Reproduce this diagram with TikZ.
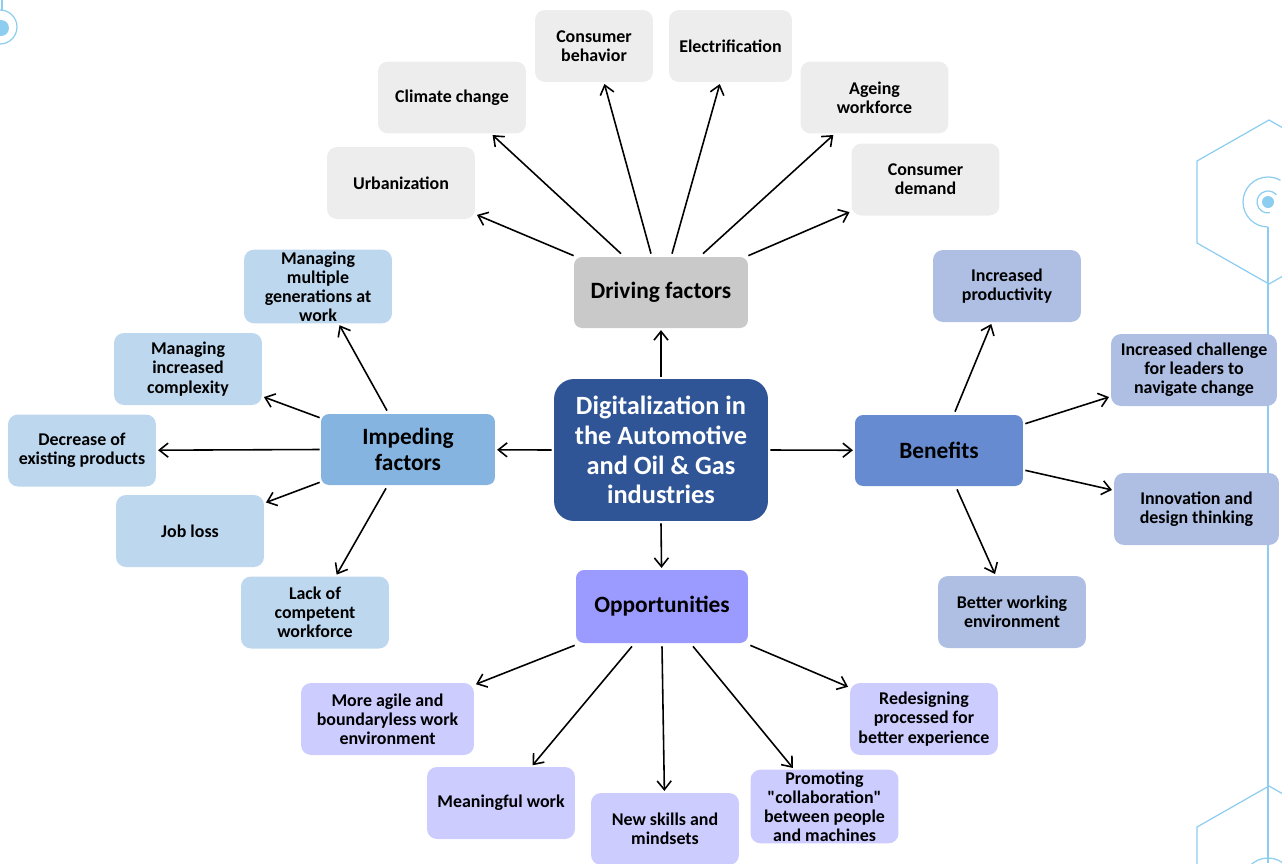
\documentclass[tikz,border=0pt]{standalone}
\usepackage{fontspec}
\setmainfont{Carlito}
\usetikzlibrary{arrows.meta,calc}
\definecolor{leafgray}{HTML}{EDEDED}
\definecolor{drvgray}{HTML}{C9C9C9}
\definecolor{impblue}{HTML}{86B4E1}
\definecolor{impleaf}{HTML}{BDD7EE}
\definecolor{benblue}{HTML}{668BD0}
\definecolor{benleaf}{HTML}{AEBFE3}
\definecolor{oppviolet}{HTML}{9A9AFF}
\definecolor{oppleaf}{HTML}{CCCCFF}
\definecolor{coreblue}{HTML}{2F5597}
\definecolor{decoblue}{HTML}{8DCDEF}
\tikzset{
  box/.style={rounded corners=0.2cm, align=center, inner sep=1pt,
    font=\fontsize{10.2}{10.9}\selectfont\bfseries,
    minimum width=2.96cm, minimum height=1.44cm},
  grayleaf/.style={box, fill=leafgray},
  impbox/.style={box, fill=impleaf},
  benbox/.style={box, fill=benleaf},
  oppbox/.style={box, fill=oppleaf},
  hub/.style={rounded corners=0.16cm, align=center, inner sep=1pt,
    font=\fontsize{13.3}{14.5}\selectfont\bfseries,
    minimum width=3.48cm, minimum height=1.42cm},
  arr/.style={-{Straight Barb[length=5pt,width=8pt]}, line width=0.9pt, shorten >=1pt},
  deco/.style={draw=decoblue, line width=0.7pt}
}
\begin{document}
\begin{tikzpicture}[x=0.02cm,y=-0.02cm]
  \useasboundingbox (0,0) rectangle (1282,863);
  \clip (0,0) rectangle (1282,863);
  % background ornaments
  \draw[deco] (2,0)--(2,10);
  \draw[deco] (0,27) circle (17);
  \fill[decoblue] (1,28) circle (8);
  \draw[deco] (1282,127.4)--(1269,120)--(1197,161)--(1197,243)--(1269,284)--(1282,276.6);
  \draw[deco] (1268,202) ++(90:25) arc (90:300:25);
  \draw[deco] (1268,202) ++(80:11) arc (80:320:11);
  \fill[decoblue] (1268,202) circle (6);
  \draw[deco] (1268,227)--(1268,863);
  \draw[deco] (1282,793.4)--(1269,786)--(1197,827)--(1197,870);
  \draw[deco] (1268,883) circle (25);

  % centre
  \node[rounded corners=0.4cm, fill=coreblue, text=white, align=center,
    minimum width=4.28cm, minimum height=2.84cm,
    font=\fontsize{15}{17}\selectfont\bfseries] (core) at (661,450)
    {Digitalization in\\the Automotive\\and Oil \& Gas\\industries};

  % driving factors
  \node[hub, fill=drvgray] (drv) at (661,292.5) {Driving factors};
  \node[grayleaf] (urb) at (401,183) {Urbanization};
  \node[grayleaf] (clim) at (452,97.5) {Climate change};
  \node[grayleaf, minimum width=2.36cm] (beh) at (594,46) {Consumer\\behavior};
  \node[grayleaf, minimum width=2.46cm] (elec) at (730.5,46) {Electrification};
  \node[grayleaf] (age) at (874.5,97.5) {Ageing\\workforce};
  \node[grayleaf] (dem) at (925.5,179.5) {Consumer\\demand};

  % impeding factors
  \node[hub, fill=impblue] (imp) at (408,449.5) {Impeding\\factors};
  \node[impbox] (gen) at (318,286.5) {Managing\\multiple\\generations at\\work};
  \node[impbox] (cplx) at (188,369) {Managing\\increased\\complexity};
  \node[impbox] (decr) at (82,450.5) {Decrease of\\existing products};
  \node[impbox] (job) at (190,531) {Job loss};
  \node[impbox] (lack) at (315,612.5) {Lack of\\competent\\workforce};

  % benefits
  \node[hub, fill=benblue, minimum width=3.36cm] (ben) at (939,450.5) {Benefits};
  \node[benbox] (prod) at (1007,286) {Increased\\productivity};
  \node[benbox, minimum width=3.32cm] (chal) at (1194,370) {Increased challenge\\for leaders to\\navigate change};
  \node[benbox, minimum width=3.3cm] (innov) at (1196.5,509) {Innovation and\\design thinking};
  \node[benbox] (work) at (1012,612) {Better working\\environment};

  % opportunities
  \node[hub, fill=oppviolet, minimum width=3.44cm, minimum height=1.46cm] (opp) at (662,606.5) {Opportunities};
  \node[oppbox, minimum width=3.46cm] (agile) at (387.5,719) {More agile and\\boundaryless work\\environment};
  \node[oppbox] (mean) at (501,803) {Meaningful work};
  \node[oppbox] (skill) at (665,829) {New skills and\\mindsets};
  \node[oppbox] (collab) at (824.5,806.5) {Promoting\\\textquotedbl collaboration\textquotedbl\\between people\\and machines};
  \node[oppbox] (redes) at (924,719) {Redesigning\\processed for\\better experience};

  % connectors
  \draw[arr] ($(core.north)+(0,-2)$) -- (drv);
  \draw[arr] ($(core.west)+(-2,0)$) -- (imp);
  \draw[arr] ($(core.east)+(2,0)$) -- (ben);
  \draw[arr] ($(core.south)+(0,2)$) -- (opp);

  \draw[arr] ($(drv.north west)+(0,-1)$) -- (urb);
  \draw[arr] ($(drv.north)+(-40,-3)$) -- (clim);
  \draw[arr] ($(drv.north)+(-10,-3)$) -- (beh);
  \draw[arr] ($(drv.north)+(11,-3)$) -- (elec);
  \draw[arr] ($(drv.north)+(42,-3)$) -- (age);
  \draw[arr] ($(drv.north east)+(0,-1)$) -- (dem);

  \draw[arr] ($(imp.north)+(-21,-3)$) -- (gen);
  \draw[arr] ($(imp.north west)+(-1,4)$) -- (cplx);
  \draw[arr] ($(imp.west)+(-1,0)$) -- (decr);
  \draw[arr] ($(imp.south west)+(-1,-3)$) -- (job);
  \draw[arr] ($(imp.south)+(-22,3)$) -- (lack);

  \draw[arr] ($(ben.north)+(16,-3)$) -- (prod);
  \draw[arr] ($(ben.north east)+(2,9)$) -- (chal);
  \draw[arr] ($(ben.south east)+(2,-16)$) -- (innov);
  \draw[arr] ($(ben.south)+(18,3)$) -- (work);

  \draw[arr] ($(opp.south west)+(-1,2)$) -- (agile);
  \draw[arr] ($(opp.south)+(-30,3)$) -- (mean);
  \draw[arr] ($(opp.south)+(0,3)$) -- (skill);
  \draw[arr] ($(opp.south)+(31,3)$) -- (collab);
  \draw[arr] ($(opp.south east)+(2,2)$) -- (redes);
\end{tikzpicture}
\end{document}
